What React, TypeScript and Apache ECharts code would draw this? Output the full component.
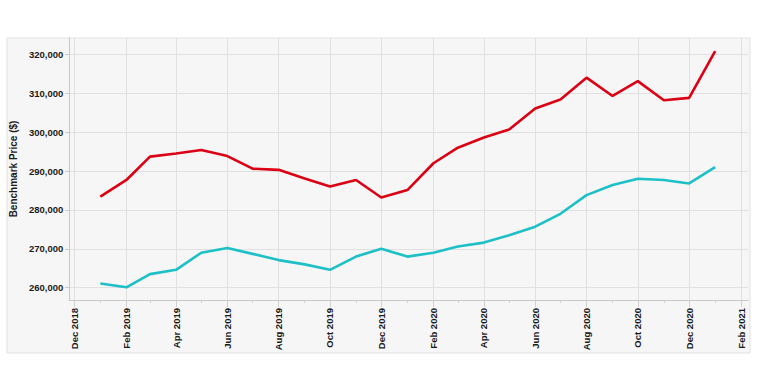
import React, { useEffect, useRef } from "react";
import * as echarts from "echarts";

const months: string[] = [
  "2019-01-01", "2019-02-01", "2019-03-01", "2019-04-01", "2019-05-01", "2019-06-01",
  "2019-07-01", "2019-08-01", "2019-09-01", "2019-10-01", "2019-11-01", "2019-12-01",
  "2020-01-01", "2020-02-01", "2020-03-01", "2020-04-01", "2020-05-01", "2020-06-01",
  "2020-07-01", "2020-08-01", "2020-09-01", "2020-10-01", "2020-11-01", "2020-12-01",
  "2021-01-01",
];

const redValues: number[] = [
  283400, 287700, 293700, 294500, 295400, 293850, 290600, 290300, 288100, 286000,
  287700, 283200, 285100, 292000, 296000, 298600, 300700, 306100, 308400, 314000,
  309300, 313100, 308200, 308800, 320800,
];

const cyanValues: number[] = [
  261100, 260100, 263500, 264600, 269000, 270200, 268700, 267100, 266000, 264600,
  268000, 270000, 268000, 269000, 270600, 271600, 273500, 275700, 279000, 283800,
  286400, 288000, 287700, 286800, 291000,
];

const majorTicks: string[] = [
  "2018-12-01", "2019-02-01", "2019-04-01", "2019-06-01", "2019-08-01", "2019-10-01",
  "2019-12-01", "2020-02-01", "2020-04-01", "2020-06-01", "2020-08-01", "2020-10-01",
  "2020-12-01", "2021-02-01",
];

const minorTicks: string[] = [
  "2019-01-01", "2019-03-01", "2019-05-01", "2019-07-01", "2019-09-01", "2019-11-01",
  "2020-01-01", "2020-03-01", "2020-05-01", "2020-07-01", "2020-09-01", "2020-11-01",
  "2021-01-01",
];

const yTicks: number[] = [260000, 270000, 280000, 290000, 300000, 310000, 320000];

const monthNames = ["Jan", "Feb", "Mar", "Apr", "May", "Jun", "Jul", "Aug", "Sep", "Oct", "Nov", "Dec"];
const FONT = "'Liberation Sans', Arial, sans-serif";
const X_MIN = "2018-11-25";
const X_MAX = "2021-02-09";

export default function App() {
  const ref = useRef<HTMLDivElement>(null);
  useEffect(() => {
    if (!ref.current) return;
    const chart = echarts.init(ref.current, undefined, { renderer: "svg" });
    const ts = (s: string) => new Date(s + "T00:00:00").getTime();
    chart.setOption({
      animation: false,
      graphic: [
        {
          type: "rect",
          z: -10,
          shape: { x: 7, y: 38, width: 743, height: 315 },
          style: { fill: "#f6f6f6", stroke: "#e2e2e2", lineWidth: 1 },
        },
      ],
      grid: { left: 61, right: 11, top: 38, bottom: 80, containLabel: false },
      xAxis: [
        {
          type: "value",
          min: ts(X_MIN),
          max: ts(X_MAX),
          axisLine: { show: true, lineStyle: { color: "#c8c8c8" } },
          axisTick: {
            show: true,
            length: 7,
            lineStyle: { color: "#d0d0d0" },
            customValues: majorTicks.map(ts),
          },
          axisLabel: {
            customValues: majorTicks.map(ts),
            rotate: 90,
            margin: 8,
            fontFamily: FONT,
            fontSize: 9.5,
            fontWeight: "bold",
            color: "#1a1a1a",
            formatter: (v: number) => {
              const d = new Date(v);
              return monthNames[d.getMonth()] + " " + d.getFullYear();
            },
          },
          splitLine: { show: true, lineStyle: { color: "#e0e0e0", width: 1 } },
        },
        {
          type: "value",
          position: "bottom",
          min: ts(X_MIN),
          max: ts(X_MAX),
          axisLine: { show: false },
          axisTick: {
            show: true,
            length: 3,
            lineStyle: { color: "#d0d0d0" },
            customValues: minorTicks.map(ts),
          },
          axisLabel: { show: false, customValues: minorTicks.map(ts) },
          splitLine: { show: false },
        },
      ],
      yAxis: {
        type: "value",
        min: 256840,
        max: 324200,
        name: "Benchmark Price ($)",
        nameLocation: "middle",
        nameGap: 38,
        nameTextStyle: { fontFamily: FONT, fontSize: 10, fontWeight: "bold", color: "#1a1a1a" },
        axisLine: { show: true, lineStyle: { color: "#c8c8c8" } },
        axisTick: { show: true, length: 4, lineStyle: { color: "#c8c8c8" }, customValues: yTicks },
        axisLabel: {
          customValues: yTicks,
          margin: 6,
          fontFamily: FONT,
          fontSize: 9.5,
          fontWeight: "bold",
          color: "#1a1a1a",
          formatter: (v: number) => v.toLocaleString("en-US"),
        },
        splitLine: { show: true, lineStyle: { color: "#e0e0e0", width: 1 } },
      },
      series: [
        {
          type: "line",
          xAxisIndex: 0,
          data: months.map((m, i) => [ts(m), redValues[i]]),
          showSymbol: false,
          lineStyle: { color: "#dc0014", width: 2.6 },
          itemStyle: { color: "#dc0014" },
        },
        {
          type: "line",
          xAxisIndex: 0,
          data: months.map((m, i) => [ts(m), cyanValues[i]]),
          showSymbol: false,
          lineStyle: { color: "#1cc0c6", width: 2.6 },
          itemStyle: { color: "#1cc0c6" },
        },
      ],
    });
    return () => chart.dispose();
  }, []);
  return <div ref={ref} style={{ width: 759, height: 380, position: "absolute", left: 0, top: 0 }} />;
}
